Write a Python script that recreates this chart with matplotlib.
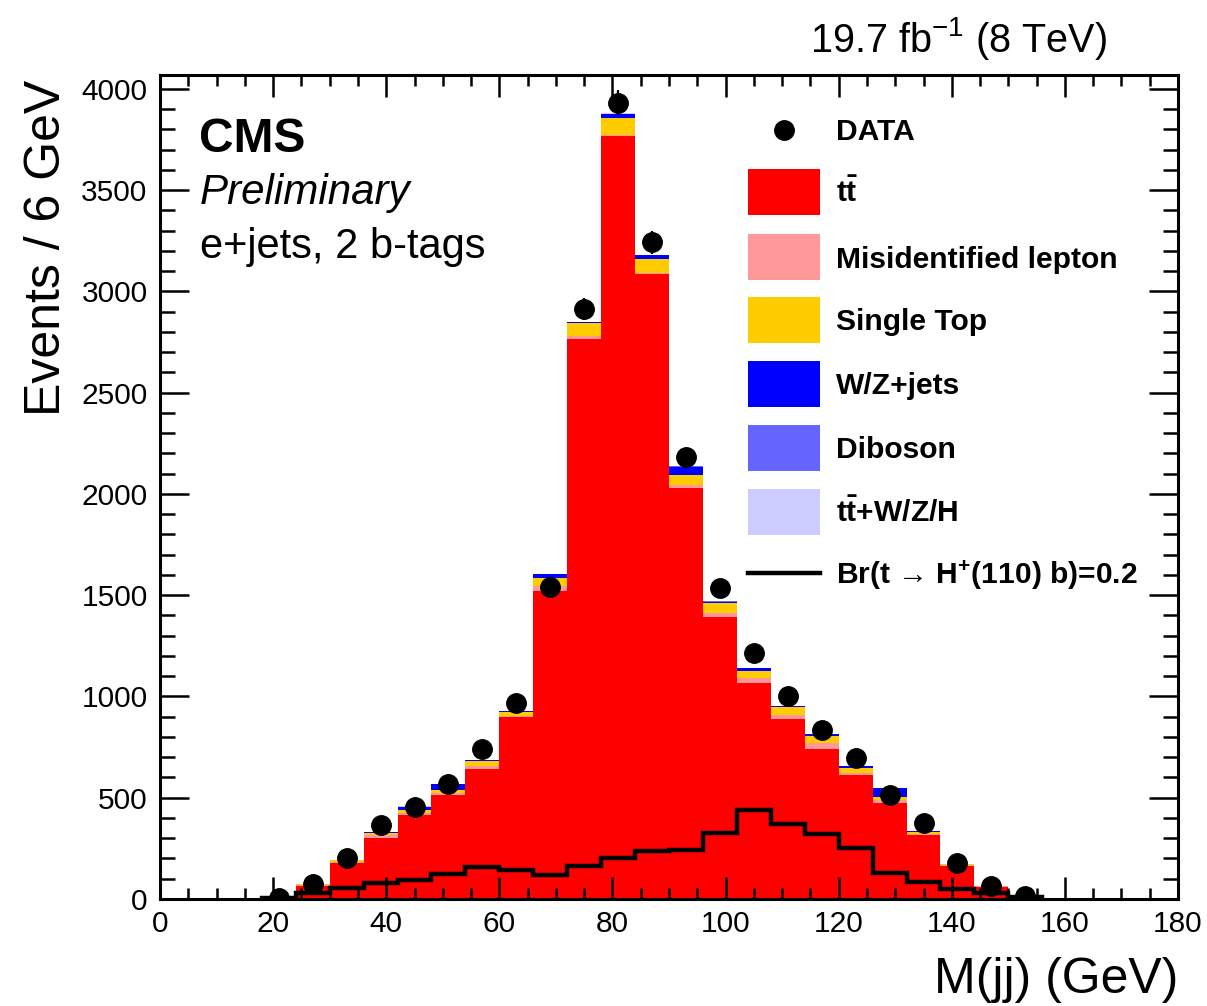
#!/usr/bin/env python3
"""M(jj) stacked background + data + charged-Higgs signal, CMS style."""
import numpy as np
import matplotlib
matplotlib.use("Agg")
import matplotlib.pyplot as plt
from matplotlib.patches import Rectangle
from matplotlib.lines import Line2D
from matplotlib.ticker import MultipleLocator

plt.rcParams["font.family"] = ["Liberation Sans", "DejaVu Sans"]
plt.rcParams["mathtext.fontset"] = "custom"
plt.rcParams["mathtext.rm"] = "Liberation Sans"
plt.rcParams["mathtext.bf"] = "Liberation Sans:bold"
plt.rcParams["mathtext.it"] = "Liberation Sans:italic"

# 6 GeV bins, 18 -> 156 GeV
edges = np.arange(18, 157, 6)

ttbar = [0, 65, 179, 300, 415, 512, 642, 897, 1522, 2764, 3770, 3084, 2028,
         1394, 1068, 887, 743, 610, 475, 316, 165, 60, 14]
misid = [0, 3, 5, 14, 11, 10, 16, 8, 24, 16, 5, 8, 16, 20, 21, 22, 29, 14, 14,
         6, 3, 2, 1]
single_top = [0, 4, 7, 10, 14, 16, 23, 20, 38, 66, 80, 68, 50, 46, 38, 37, 33,
              21, 13, 10, 5, 2, 1]
wz_jets = [0, 2, 3, 7, 15, 29, 4, 3, 19, 1, 21, 18, 41, 9, 12, 7, 8, 10, 44,
           3, 1, 0, 0]
diboson = [0, 0, 0, 1, 1, 1, 1, 1, 2, 2, 2, 2, 2, 2, 1, 1, 1, 1, 1, 0, 0, 0, 0]
ttv = [0, 0, 0, 1, 1, 1, 1, 1, 2, 2, 2, 2, 2, 2, 1, 1, 1, 1, 1, 0, 0, 0, 0]

data = [4, 72, 204, 365, 455, 568, 742, 966, 1543, 2912, 3933, 3243, 2181,
        1537, 1213, 1002, 835, 694, 514, 373, 179, 64, 15]

signal = [3, 30, 52, 80, 94, 122, 158, 143, 118, 163, 200, 238, 244, 326, 440,
          368, 319, 253, 126, 86, 48, 28, 10]

components = [
    ("t$\\mathbf{\\bar{t}}$", ttbar, "#ff0000"),
    ("Misidentified lepton", misid, "#ff9999"),
    ("Single Top", single_top, "#ffcc00"),
    ("W/Z+jets", wz_jets, "#0000ff"),
    ("Diboson", diboson, "#6666ff"),
    ("t$\\mathbf{\\bar{t}}$+W/Z/H", ttv, "#ccccff"),
]
signal_label = "Br(t \u2192 H$^{\\mathbf{+}}$(110) b)=0.2"

W, H = 1207, 1006
fig = plt.figure(figsize=(W / 100, H / 100), dpi=100)
ax = fig.add_axes([160 / W, 1 - 899 / H, (1178 - 160) / W, (899 - 75) / H])

# stacked backgrounds
bottom = np.zeros(len(ttbar))
for label, vals, color in components:
    top = bottom + np.asarray(vals, dtype=float)
    ax.stairs(top, edges, baseline=bottom, fill=True, color=color, lw=0)
    bottom = top

# signal
ax.stairs(signal, edges, color="black", lw=3.2)

# data
centers = 0.5 * (edges[:-1] + edges[1:])
data = np.asarray(data, dtype=float)
ax.errorbar(centers, data, yerr=np.sqrt(data), fmt="o", color="black",
            ms=14, elinewidth=1.6, capsize=0, zorder=5)

ax.set_xlim(0, 180)
ax.set_ylim(0, 4069)
ax.xaxis.set_major_locator(MultipleLocator(20))
ax.xaxis.set_minor_locator(MultipleLocator(5))
ax.yaxis.set_major_locator(MultipleLocator(500))
ax.yaxis.set_minor_locator(MultipleLocator(100))
ax.tick_params(which="both", direction="in", top=True, right=True, width=1.8,
               labelsize=21.5)
ax.tick_params(axis="x", which="major", length=16, pad=8)
ax.tick_params(axis="x", which="minor", length=8)
ax.tick_params(axis="y", which="major", length=21, pad=9)
ax.tick_params(axis="y", which="minor", length=10.5)
for sp in ax.spines.values():
    sp.set_linewidth(2.2)

fig.text(1178 / W, 1 - 993 / H, "M(jj) (GeV)", fontsize=36, ha="right",
         va="baseline")
fig.text(60 / W, 1 - 80 / H, "Events / 6 GeV", fontsize=36, rotation=90,
         rotation_mode="anchor", ha="right", va="baseline")

fig.text(199 / W, 1 - 152 / H, "CMS", fontsize=34.5, fontweight="bold",
         va="baseline")
fig.text(200 / W, 1 - 204 / H, "Preliminary", fontsize=30.3, style="italic",
         va="baseline")
fig.text(200 / W, 1 - 258 / H, "e+jets, 2 b-tags", fontsize=30,
         va="baseline")
fig.text(1107 / W, 1 - 52 / H, "19.7 fb$^{-1}$ (8 TeV)", fontsize=28.5,
         ha="right", va="baseline")

# legend, ROOT-style rows (figure pixel layout)
rows = [130, 192, 257, 320, 384, 448, 512, 573]
lab_kw = dict(fontsize=21.6, fontweight="bold", va="baseline", ha="left")
fig.add_artist(Line2D([784 / W], [1 - rows[0] / H], marker="o", ls="none",
                      color="black", ms=14))
fig.text(836 / W, 1 - (rows[0] + 10.5) / H, "DATA", **lab_kw)
for (label, vals, color), yc in zip(components, rows[1:7]):
    fig.add_artist(Rectangle((748 / W, 1 - (yc + 23) / H), 72 / W, 46 / H,
                             facecolor=color, edgecolor="none"))
    fig.text(836 / W, 1 - (yc + 10.5) / H, label, **lab_kw)
fig.add_artist(Line2D([748 / W, 820 / W], [1 - rows[7] / H] * 2,
                      color="black", lw=3.2))
fig.text(836 / W, 1 - (rows[7] + 10.5) / H, signal_label, **lab_kw)

fig.savefig("out.png", dpi=100)
